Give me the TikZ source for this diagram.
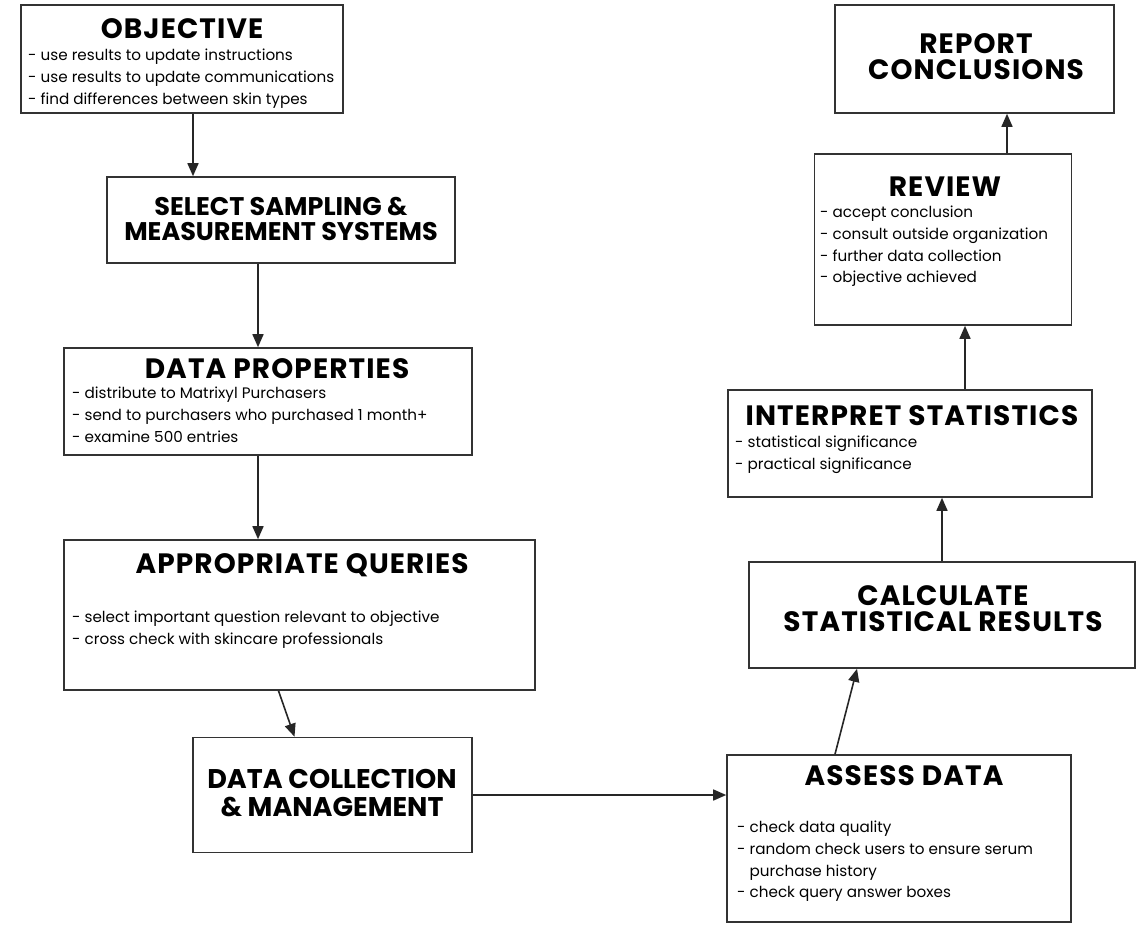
\documentclass[tikz,border=0pt]{standalone}
\usepackage{fontspec}
\setmainfont{Poppins}
\usetikzlibrary{arrows.meta}
\tikzset{
  box/.style={draw=black!80, line width=1.6pt, rectangle, inner sep=0pt},
  head/.style={anchor=north, inner sep=0pt, align=center,
    font=\bfseries\fontsize{28}{26}\selectfont\addfontfeatures{LetterSpace=4}},
  tighthead/.style={anchor=north, inner sep=0pt, align=center,
    font=\bfseries\fontsize{27}{#1}\selectfont},
  items/.style={anchor=north west, inner sep=0pt, align=left,
    font=\fontsize{15.2}{21.7}\selectfont},
  arr/.style={-{Triangle[length=13pt,width=11pt]}, line width=1.6pt, draw=black!85}
}
\begin{document}
\begin{tikzpicture}[x=1pt,y=-1pt]
\useasboundingbox (0,0) rectangle (1145,924);
% left column
\node[box, minimum width=322pt, minimum height=108pt] (objective) at (182,59) {};
\node[box, minimum width=348pt, minimum height=86pt] (sampling) at (281,220) {};
\node[box, minimum width=408pt, minimum height=107pt] (properties) at (268,401.5) {};
\node[box, minimum width=471pt, minimum height=150pt] (queries) at (299.5,615) {};
\node[box, minimum width=279pt, minimum height=115pt] (collection) at (332.5,795) {};
% right column
\node[box, minimum width=344pt, minimum height=167pt] (assess) at (899,838.5) {};
\node[box, minimum width=386pt, minimum height=106pt] (calculate) at (942,615) {};
\node[box, minimum width=364pt, minimum height=107pt] (interpret) at (910,443.5) {};
\node[box, minimum width=257pt, minimum height=171pt] (review) at (943,239.5) {};
\node[box, minimum width=279pt, minimum height=108pt] (report) at (974.5,59) {};
% headings
\node[head] at (182,18) {OBJECTIVE};
\node[tighthead=25pt, font=\bfseries\fontsize{25.5}{25}\selectfont] at (281,197) {SELECT SAMPLING \&\\MEASUREMENT SYSTEMS};
\node[head] at (277,358) {DATA PROPERTIES};
\node[head] at (302,553) {APPROPRIATE QUERIES};
\node[tighthead=28pt] at (332,769) {DATA COLLECTION\\\& MANAGEMENT};
\node[head] at (904,765) {ASSESS DATA};
\node[head] at (943,585) {CALCULATE\\STATISTICAL RESULTS};
\node[head] at (912,405) {INTERPRET STATISTICS};
\node[head] at (945,177) {REVIEW};
\node[head] at (976,33) {REPORT\\CONCLUSIONS};
% lists
\node[items] at (28,49) {- use results to update instructions\\- use results to update communications\\- find differences between skin types};
\node[items] at (72,387) {- distribute to Matrixyl Purchasers\\- send to purchasers who purchased 1 month+\\- examine 500 entries};
\node[items] at (72,611) {- select important question relevant to objective\\- cross check with skincare professionals};
\node[items] at (737,821) {- check data quality\\- random check users to ensure serum\\\phantom{- }purchase history\\- check query answer boxes};
\node[items] at (735,436) {- statistical significance\\- practical significance};
\node[items] at (820,206) {- accept conclusion\\- consult outside organization\\- further data collection\\- objective achieved};
% arrows
\draw[arr] ([xshift=11pt]objective.south) -- ([xshift=11pt]objective.south |- sampling.north);
\draw[arr] ([xshift=-23pt]sampling.south) -- ([xshift=-23pt]sampling.south |- properties.north);
\draw[arr] ([xshift=-10pt]properties.south) -- ([xshift=-10pt]properties.south |- queries.north);
\draw[arr] ([xshift=-21pt]queries.south) -- ([xshift=-38pt]collection.north);
\draw[arr] (collection.east) -- (collection.east -| assess.west);
\draw[arr] ([xshift=-64pt]assess.north) -- ([xshift=-85pt]calculate.south);
\draw[arr] (calculate.north) -- (calculate.north |- interpret.south);
\draw[arr] ([xshift=55pt]interpret.north) -- ([xshift=55pt]interpret.north |- review.south);
\draw[arr] ([xshift=64pt]review.north) -- ([xshift=64pt]review.north |- report.south);
\end{tikzpicture}
\end{document}
